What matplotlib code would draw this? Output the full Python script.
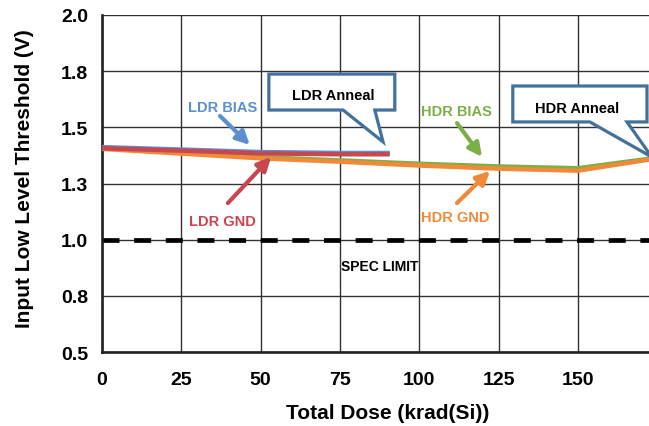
import matplotlib
matplotlib.use('Agg')
import matplotlib.pyplot as plt
from matplotlib.patches import Polygon
import numpy as np

plt.rcParams['font.family'] = ['Liberation Sans', 'DejaVu Sans']
plt.rcParams['font.weight'] = 'bold'

# data
ldr_dose = [0, 30, 50, 75, 90]
ldr_bias = [1.412, 1.399, 1.390, 1.386, 1.386]
ldr_gnd = [1.407, 1.394, 1.384, 1.380, 1.380]

hdr_dose = [0, 25, 50, 75, 100, 125, 150, 175]
hdr_bias = [1.408, 1.388, 1.367, 1.353, 1.338, 1.326, 1.318, 1.365]
hdr_gnd = [1.404, 1.383, 1.362, 1.347, 1.330, 1.316, 1.307, 1.362]

spec_limit = 1.0

x_ticks = [0, 25, 50, 75, 100, 125, 150]
x_tick_labels = ['0', '25', '50', '75', '100', '125', '150']
y_ticks = [0.5, 0.75, 1.0, 1.25, 1.5, 1.75, 2.0]
y_tick_labels = ['0.5', '0.8', '1.0', '1.3', '1.5', '1.8', '2.0']

# colours
c_blue = '#5B8FCF'
c_red = '#C8464F'
c_green = '#7DAF48'
c_orange = '#F08A38'
c_callout = '#41719C'

fig = plt.figure(figsize=(6.49, 4.27), dpi=100)
ax = fig.add_axes([102 / 649, 1 - 353 / 427, 571 / 649, 337 / 427])

ax.set_xlim(0, 180)
ax.set_ylim(0.5, 2.0)
ax.set_xticks(x_ticks)
ax.set_xticklabels(x_tick_labels)
ax.set_yticks(y_ticks)
ax.set_yticklabels(y_tick_labels)
ax.tick_params(axis='both', length=0, labelsize=14)
ax.tick_params(axis='y', pad=10)
ax.tick_params(axis='x', pad=14)

ax.grid(True, color='#333333', linewidth=1.0, zorder=0)
ax.set_axisbelow(True)
for side in ['top', 'right']:
    ax.spines[side].set_visible(False)
for side in ['left', 'bottom']:
    ax.spines[side].set_linewidth(1.9)
    ax.spines[side].set_color('#222222')

# spec limit
ax.axhline(spec_limit, color='black', linewidth=3.4,
           linestyle=(0, (3.6, 3.1)), dash_capstyle='butt', zorder=2)

# series
ax.plot(hdr_dose, hdr_bias, color=c_green, linewidth=3.2, zorder=3)
ax.plot(hdr_dose, hdr_gnd, color=c_orange, linewidth=3.2, zorder=4)
ax.plot(ldr_dose, ldr_bias, color=c_blue, linewidth=3.2, zorder=5)
ax.plot(ldr_dose, ldr_gnd, color=c_red, linewidth=3.2, zorder=6)

# labels with arrows
def label_arrow(text, tip, start, text_pos, color):
    ax.annotate('', xy=tip, xytext=start, zorder=8,
                arrowprops=dict(arrowstyle='-|>', color=color, lw=3,
                                mutation_scale=20, shrinkA=0, shrinkB=0))
    ax.text(text_pos[0], text_pos[1], text, color=color, fontsize=10.5,
            fontweight='bold', ha='center', va='center', zorder=8)

label_arrow('LDR BIAS', (46.6, 1.4215), (37.2, 1.5505), (38.1, 1.591), c_blue)
label_arrow('LDR GND', (53.3, 1.368), (39.7, 1.163), (38.1, 1.083), c_red)
label_arrow('HDR BIAS', (119.8, 1.368), (111.9, 1.519), (111.6, 1.573), c_green)
label_arrow('HDR GND', (122.3, 1.306), (111.9, 1.163), (111.3, 1.101), c_orange)

# callouts
ldr_callout = [(52.6, 1.737), (92.3, 1.737), (92.3, 1.577), (86.0, 1.577),
               (88.6, 1.435), (76.0, 1.577), (52.6, 1.577)]
hdr_callout = [(129.5, 1.684), (171.8, 1.684), (171.8, 1.524), (165.5, 1.524),
               (173.3, 1.368), (153.8, 1.524), (129.5, 1.524)]
for pts in [ldr_callout, hdr_callout]:
    ax.add_patch(Polygon(pts, closed=True, facecolor='white',
                         edgecolor=c_callout, linewidth=2.3,
                         joinstyle='miter', zorder=7))
ax.text(72.8, 1.644, 'LDR Anneal', fontsize=10.5, fontweight='bold',
        ha='center', va='center', zorder=8)
ax.text(149.6, 1.585, 'HDR Anneal', fontsize=10.5, fontweight='bold',
        ha='center', va='center', zorder=8)
ax.text(87.6, 0.883, 'SPEC LIMIT', fontsize=10, fontweight='bold',
        ha='center', va='center', zorder=8)

ax.set_xlabel('Total Dose (krad(Si))', fontsize=15, fontweight='bold')
ax.set_ylabel('Input Low Level Threshold (V)', fontsize=15, fontweight='bold')
ax.xaxis.set_label_coords(0.5, -0.151)
ax.yaxis.set_label_coords(-0.119, 0.516)

fig.savefig('out.png', dpi=100)
